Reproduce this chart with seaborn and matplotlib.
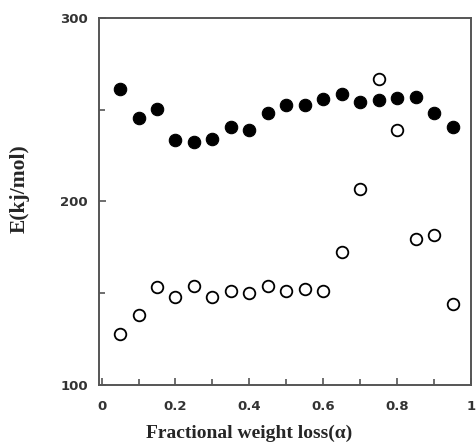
import numpy as np
import pandas as pd
import matplotlib
matplotlib.use('Agg')
import matplotlib.pyplot as plt
import seaborn as sns
from matplotlib.ticker import MultipleLocator

sns.set_style('ticks')
plt.rcParams['font.family'] = ['DejaVu Sans']

# Veriler
alpha = [0.05, 0.10, 0.15, 0.20, 0.25, 0.30, 0.35, 0.40, 0.45, 0.50,
         0.55, 0.60, 0.65, 0.70, 0.75, 0.80, 0.85, 0.90, 0.95]
E_filled = [261.4, 245.4, 250.3, 233.2, 232.6, 234.0, 240.3, 239.0, 248.0, 252.6,
            252.6, 255.9, 258.6, 254.3, 255.4, 256.3, 256.8, 248.0, 240.8]
E_open = [127.9, 137.9, 153.4, 147.9, 153.7, 147.9, 151.0, 150.3, 153.7, 151.0,
          152.5, 151.2, 172.5, 206.6, 266.7, 239.0, 179.4, 181.6, 143.9]

x_ticks = [0, 0.2, 0.4, 0.6, 0.8, 1]
x_tick_labels = ['0', '0.2', '0.4', '0.6', '0.8', '1']
y_ticks = [100, 200, 300]

df = pd.DataFrame({'alpha': alpha, 'dolu': E_filled, 'bos': E_open})

fig = plt.figure(figsize=(4.76, 4.48), dpi=100)
ax = fig.add_axes([0.208, 0.141, 0.7815, 0.819])

sns.scatterplot(x='alpha', y='dolu', data=df, ax=ax, s=80, color='black',
                edgecolor='black', linewidth=0.8, zorder=3)
sns.scatterplot(x='alpha', y='bos', data=df, ax=ax, s=70, facecolor='white',
                edgecolor='black', linewidth=1.3, zorder=3)

ax.set_xlim(-0.007, 0.995)
ax.set_ylim(100, 300)
ax.set_xticks(x_ticks)
ax.set_xticklabels(x_tick_labels)
ax.set_yticks(y_ticks)
ax.xaxis.set_minor_locator(MultipleLocator(0.1))
ax.yaxis.set_minor_locator(MultipleLocator(50))
ax.tick_params(which='both', direction='in', color='#555555', width=1.2)
ax.tick_params(which='major', length=5)
ax.tick_params(which='minor', length=4)
ax.tick_params(axis='x', pad=11, labelsize=9.5)
ax.tick_params(axis='y', pad=8, labelsize=9.5)
for lab in ax.get_xticklabels() + ax.get_yticklabels():
    lab.set_fontweight('bold')
    lab.set_color('#333333')

for sp in ax.spines.values():
    sp.set_visible(True)
    sp.set_color('#555555')
    sp.set_linewidth(1.4)

ax.set_xlabel('')
ax.set_ylabel('')
fig.text(0.523, 0.033, 'Fractional weight loss(α)', ha='center', va='center',
         fontsize=14, fontweight='bold', family='Liberation Serif')
fig.text(0.042, 0.578, 'E(kj/mol)', ha='center', va='center', rotation=90,
         fontsize=15.5, fontweight='bold', family='Liberation Serif')

plt.savefig('out.png', dpi=100)
plt.close()
